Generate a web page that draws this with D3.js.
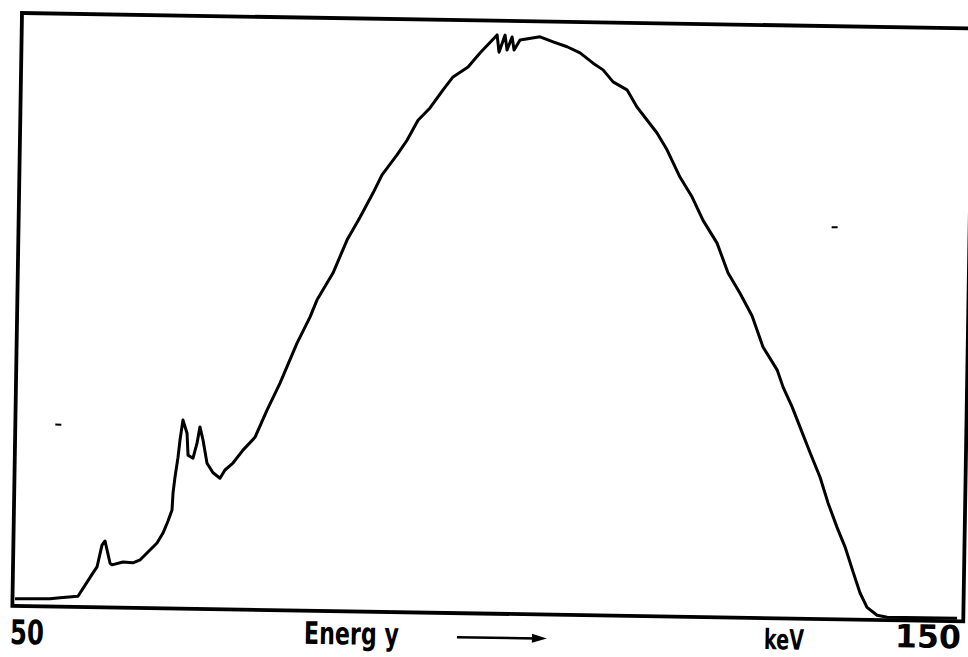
<!DOCTYPE html>
<html>
<head>
<meta charset="utf-8">
<script src="https://cdn.jsdelivr.net/npm/d3@7"></script>
<style>
  body { margin: 0; background: #fff; }
  svg { display: block; }
  text { font-family: "DejaVu Sans Condensed", "DejaVu Sans", sans-serif; fill: #000; }
</style>
</head>
<body>
<svg></svg>
<script>
// spectrum: energy in keV, counts in % of full scale
var energy = [50.26, 53.94, 54.99, 56.88, 58.42, 58.83, 59.32, 59.63, 60.19, 60.40,
  61.56, 62.61, 63.34, 64.06, 65.10, 65.71, 66.21, 66.62, 66.70, 66.88,
  67.16, 67.34, 67.62, 68.07, 68.21, 68.74, 69.14, 69.42, 69.76, 70.22,
  70.87, 71.61, 72.12, 72.95, 73.98, 75.22, 76.44, 77.76, 79.48, 80.80,
  81.50, 83.14, 84.56, 85.89, 87.21, 88.13, 89.67, 90.70, 91.82, 93.06,
  94.40, 95.43, 96.99, 98.22, 99.99, 100.22, 100.83, 101.06, 101.57, 101.80,
  102.41, 104.51, 105.89, 107.37, 108.74, 110.13, 111.19, 112.26, 113.74, 114.83,
  115.48, 116.97, 118.05, 119.47, 120.77, 121.96, 123.47, 124.68, 125.97, 127.28,
  128.48, 130.00, 130.66, 131.64, 132.51, 133.61, 134.70, 135.58, 136.57, 137.45,
  138.34, 139.10, 139.86, 140.93, 141.99, 149.35];
var counts = [1.2, 1.3, 1.5, 1.8, 5.8, 6.8, 10.5, 11.2, 7.5, 7.2,
  7.7, 7.6, 8.1, 9.3, 11.0, 12.7, 14.7, 16.6, 19.5, 22.2,
  25.5, 28.4, 31.8, 29.6, 25.9, 25.4, 28.0, 30.7, 28.5, 24.6,
  23.0, 22.1, 23.5, 24.7, 26.9, 29.1, 33.7, 38.3, 45.1, 49.5,
  52.4, 57.0, 62.6, 66.5, 70.6, 73.7, 77.1, 79.6, 83.0, 85.1,
  88.2, 90.4, 92.1, 94.5, 97.6, 94.7, 97.6, 95.1, 97.3, 95.1,
  96.8, 97.4, 96.6, 95.8, 94.8, 93.1, 92.0, 90.0, 88.7, 85.8,
  84.5, 81.5, 78.7, 74.1, 70.8, 66.9, 63.1, 58.1, 54.7, 50.9,
  45.7, 41.9, 39.0, 35.7, 32.3, 28.0, 23.9, 19.6, 15.5, 12.2,
  8.0, 4.5, 2.1, 0.8, 0.5, 0.5];
var tickValues = [50, 150];
var tickLabels = ["50", "150"];

var width = 951, height = 593;

var svg = d3.select("svg")
    .attr("width", 968)
    .attr("height", 657);

svg.append("rect").attr("width", 968).attr("height", 657).attr("fill", "#fff");

// the scanned sheet sits a little askew
var g = svg.append("g")
    .attr("transform", "translate(22,13) rotate(0.93)");

var x = d3.scaleLinear().domain([50, 150]).range([0, width]);
var y = d3.scaleLinear().domain([0, 100]).range([height, 0]);

var data = energy.map(function(e, i) { return [e, counts[i]]; });

// frame
g.append("rect")
    .attr("width", width)
    .attr("height", height)
    .attr("fill", "none")
    .attr("stroke", "#000")
    .attr("stroke-width", 3.8);

// spectrum
var line = d3.line()
    .x(function(d) { return x(d[0]); })
    .y(function(d) { return y(d[1]); });

g.append("path")
    .datum(data)
    .attr("d", line)
    .attr("fill", "none")
    .attr("stroke", "#000")
    .attr("stroke-width", 3)
    .attr("stroke-linejoin", "round");

// tick labels
g.selectAll(".tick")
    .data(tickValues)
    .enter().append("text")
    .attr("class", "tick")
    .attr("x", function(d, i) { return i == 0 ? x(d) - 2 : x(d) - 68; })
    .attr("y", function(d, i) { return i == 0 ? 631 : 620; })
    .attr("textLength", function(d, i) { return i == 0 ? 34 : 66; })
    .attr("lengthAdjust", "spacingAndGlyphs")
    .style("font-size", function(d, i) { return i == 0 ? "34px" : "32px"; })
    .style("font-weight", "bold")
    .text(function(d, i) { return tickLabels[i]; });

g.append("text")
    .attr("x", 292)
    .attr("y", 626)
    .attr("textLength", 95)
    .attr("lengthAdjust", "spacingAndGlyphs")
    .style("font-size", "31px")
    .style("font-weight", "600")
    .text("Energ y");

g.append("text")
    .attr("x", 752)
    .attr("y", 624)
    .attr("textLength", 40)
    .attr("lengthAdjust", "spacingAndGlyphs")
    .style("font-size", "28px")
    .style("font-weight", "600")
    .text("keV");

// arrow
g.append("line")
    .attr("x1", 445).attr("y1", 617)
    .attr("x2", 525).attr("y2", 617)
    .attr("stroke", "#000")
    .attr("stroke-width", 2.5);
g.append("path")
    .attr("d", "M520,612.5 L535,617 L520,621.5 Z")
    .attr("fill", "#000");

// specks left on the sheet
g.append("line")
    .attr("x1", 40).attr("y1", 411).attr("x2", 46).attr("y2", 411)
    .attr("stroke", "#000").attr("stroke-width", 2);
g.append("line")
    .attr("x1", 813).attr("y1", 201).attr("x2", 819).attr("y2", 201)
    .attr("stroke", "#000").attr("stroke-width", 2);
</script>
</body>
</html>
